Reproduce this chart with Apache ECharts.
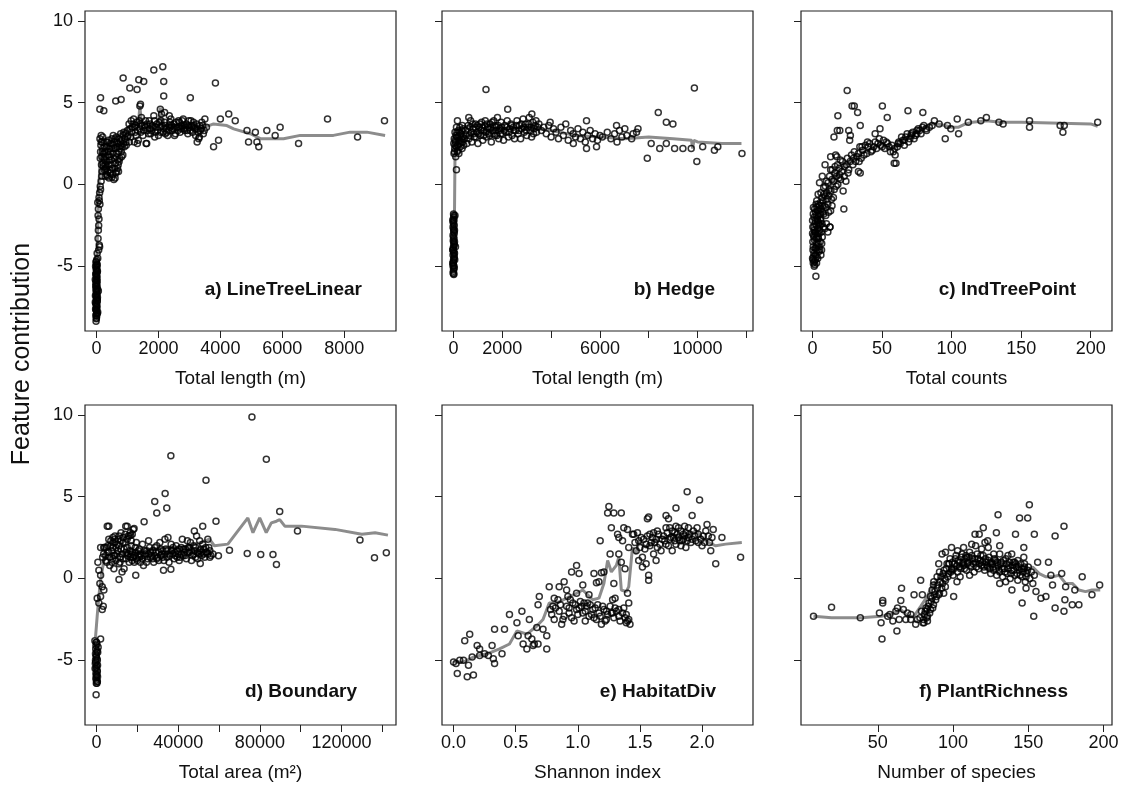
<!DOCTYPE html>
<html>
	<head>
		<meta charset="utf-8">
		<title></title>
		<script src="https://cdn.jsdelivr.net/npm/echarts@6/dist/echarts.min.js"></script>
		<style type="text/css">
			html, body {
				margin: 0;
				padding: 0;
				background: #fff;
			}

			#main {
				width: 1126px;
				height: 787px;
			}
		</style>
	</head>
	<body>
		<div id="main"></div>
		<script>
			// ---------- a) LineTreeLinear ----------
			var lineTreePts = [
				[-10,-4.7],[20,-4.9],[-30,-5.0],[0,-5.2],[30,-5.3],[-20,-5.5],[10,-5.6],[-40,-5.8],[20,-5.9],[0,-6.1],
				[-25,-6.2],[35,-6.4],[-10,-6.5],[15,-6.7],[-35,-6.8],[5,-7.0],[25,-7.1],[-15,-7.3],[10,-7.4],[-30,-7.6],
				[0,-7.7],[20,-7.9],[-20,-8.0],[-5,-8.2],[-15,-8.35],[60,-6.5],[40,-7.8],[-5,-5.4],[-20,-6.0],[30,-6.9],
				[-40,-7.2],[5,-7.9],
				[5,-4.6],[-15,-4.75],[10,-4.85],[-5,-4.95],[15,-5.05],[-10,-5.15],[0,-5.25],[20,-5.35],[-20,-5.45],[5,-5.55],
				[-5,-5.65],[15,-5.75],[-15,-5.85],[0,-5.95],[10,-6.05],[-10,-6.15],[20,-6.25],[-20,-6.35],[5,-6.45],[-5,-6.55],
				[15,-6.65],[-15,-6.75],[0,-6.85],[10,-6.95],[-10,-7.05],[20,-7.15],[-20,-7.25],[5,-7.35],[-5,-7.45],[15,-7.55],
				[-15,-7.65],[0,-7.75],[10,-7.85],[-10,-7.95],[5,-8.05],[-5,-8.15],[20,-4.2],[50,-3.3],[70,-2.5],[60,-1.5],[80,-0.8],
				[40,-4.5],[70,-4.0],[100,-3.8],[90,-3.7],[60,-2.8],[80,-2.1],[50,-1.9],[40,-1.1],[90,-1.0],[110,-1.2],
				[100,-0.5],[130,-0.3],[120,-0.1],[150,0.2],[170,0.5],
				[110,2.8],[150,3.0],[180,2.6],[200,2.2],[230,1.9],[260,1.5],[280,1.2],[300,0.9],[320,0.6],[350,0.5],
				[400,0.4],[450,0.7],[500,0.45],[560,0.3],[600,0.4],[650,0.8],[700,1.2],[750,1.6],[800,2.0],[850,1.8],
				[900,2.3],[950,2.6],[990,2.9],[130,2.0],[170,1.7],[210,1.3],[250,0.9],[290,1.0],[340,1.4],[380,1.8],
				[420,2.2],[460,2.5],[500,2.8],[540,3.0],[580,2.6],[620,2.2],[660,1.9],[700,2.5],[740,2.8],[780,3.1],
				[820,2.7],[860,3.0],[200,2.9],[240,2.6],[330,2.3],[370,2.0],[410,1.5],[470,1.2],[520,1.0],[570,1.6],
				[610,1.3],[680,1.0],[720,2.0],[160,1.2],[260,2.3],[440,0.9],[550,2.4],[640,2.9],[790,2.4],[880,3.2],
				[120,1.6],[140,2.4],[190,2.0],[220,1.1],[240,1.6],[270,2.0],[300,1.7],[310,2.6],[330,1.1],[360,0.8],
				[390,1.2],[430,1.7],[450,2.0],[480,1.5],[490,2.2],[530,1.9],[560,2.2],[590,1.0],[620,0.7],[630,1.7],
				[670,2.3],[690,1.5],[710,0.8],[730,1.4],[760,2.2],[770,2.6],[810,1.7],[830,2.3],[870,2.5],[920,2.8],
				[940,3.1],[960,2.4],[180,0.8],[280,0.5],[380,2.7],[520,0.6],[600,2.8],[150,2.6],[350,2.6],[660,2.6],
				[1000,3.3],[1050,3.7],[1100,2.9],[1150,3.5],[1200,4.0],[1250,3.2],[1300,3.8],[1350,2.7],[1400,3.4],[1450,4.1],
				[1500,3.0],[1550,3.6],[1600,2.5],[1650,3.3],[1700,3.9],[1750,3.1],[1800,3.6],[1850,4.2],[1900,3.2],[1950,3.7],
				[2000,3.0],[2050,3.5],[2100,4.3],[2150,3.2],[2200,3.8],[2250,3.4],[2300,3.0],[2350,3.6],[2400,4.0],[2450,3.3],
				[2500,3.7],[2550,3.1],[2600,3.5],[2650,3.9],[2700,3.2],[2750,3.6],[2800,4.0],[2850,3.3],[2900,3.7],[2950,3.1],
				[3000,3.5],[3050,3.9],[3100,3.2],[3150,3.6],[3200,3.0],[3250,3.4],[3300,2.8],[3350,3.3],[3400,3.8],[3450,3.1],
				[3500,4.0],[3550,3.5],[1120,3.9],[1280,3.0],[1420,3.7],[1580,3.9],[1720,3.4],[1880,2.9],[2080,3.9],[2220,3.1],
				[2380,3.5],[2520,3.0],[2680,3.8],[2820,3.4],[2980,3.9],[3120,3.5],[1220,2.6],[1320,2.5],[1620,2.5],[1060,2.6],
				[3250,2.6],[3320,2.9],[1400,4.8],[2060,4.6],[2200,4.4],[2350,4.2],
				[1020,3.0],[1080,3.4],[1130,3.2],[1180,3.7],[1230,3.5],[1270,3.6],[1330,3.3],[1380,3.9],[1430,3.2],[1470,3.6],
				[1530,3.3],[1570,3.5],[1630,3.7],[1680,3.1],[1730,3.7],[1780,3.3],[1830,3.5],[1870,3.9],[1920,3.5],[1970,3.3],
				[2020,3.8],[2070,3.2],[2120,3.6],[2170,3.4],[2230,3.6],[2270,3.2],[2330,3.3],[2370,3.8],[2430,3.6],[2470,3.4],
				[2530,3.5],[2570,3.8],[2630,3.3],[2670,3.5],[2730,3.4],[2770,3.9],[2830,3.6],[2870,3.5],[2930,3.3],[2970,3.6],
				[3030,3.3],[3080,3.6],[3130,3.8],[3180,3.4],[3230,3.7],[3280,3.2],[3330,3.6],[3380,3.4],[3430,3.6],[3480,3.3],
				[860,6.5],[1310,5.8],[1075,5.9],[1365,6.4],[1525,6.3],[1850,7.0],[2140,7.2],[2170,6.3],[2170,5.4],[620,5.1],
				[795,5.2],[130,5.3],[3030,5.3],[3840,6.2],[1420,4.9],[107,4.6],[236,4.5],
				[4270,4.3],[4480,3.9],[4000,4.0],[4860,3.3],[5130,3.2],[5500,3.3],[5930,3.5],[5770,3.0],[4910,2.6],[5180,2.6],
				[5240,2.3],[3780,2.3],[3940,2.7],[6525,2.5],[7460,4.0],[8430,2.9],[9300,3.9]
			];
			var lineTreeCurve = [
				[0,-5.0],[20,-3.8],[75,-0.1],[130,1.9],[450,2.5],[770,3.1],[1200,3.7],[1350,3.6],[1400,4.8],[1450,3.7],
				[2000,3.6],[2060,4.7],[2120,3.6],[2820,3.6],[3350,3.4],[3780,3.7],[4210,3.6],[4430,3.4],[4970,3.1],[5290,2.8],
				[6040,2.8],[6580,3.0],[7120,3.0],[7650,3.0],[8190,3.2],[8730,3.2],[9320,3.0]
			];

			// ---------- b) Hedge ----------
			var hedgePts = [
				[0,-1.8],[20,-2.0],[-10,-2.3],[30,-2.5],[0,-2.7],[10,-2.9],[-20,-3.1],[20,-3.3],[0,-3.5],[30,-3.7],
				[-10,-3.9],[10,-4.1],[-20,-4.3],[20,-4.5],[0,-4.7],[-10,-4.9],[30,-5.1],[0,-5.3],[10,-5.5],[80,-3.8],
				[60,-1.9],[-30,-4.0],[40,-2.8],[-20,-5.0],[50,-4.6],[120,0.9],
				[10,-1.9],[-10,-2.1],[20,-2.2],[0,-2.4],[-20,-2.6],[10,-2.8],[30,-3.0],[0,-3.2],[-10,-3.4],[20,-3.6],
				[0,-3.8],[-20,-4.0],[10,-4.2],[30,-4.4],[0,-4.6],[-10,-4.8],[20,-5.0],[0,-5.2],[-20,-5.4],[10,-5.45],
				[-30,-2.2],[40,-3.5],[-30,-4.8],[40,-4.2],
				[20,1.9],[50,2.2],[80,2.6],[100,3.0],[30,2.8],[60,2.4],[150,2.0],[180,2.9],[200,3.3],[250,2.5],
				[300,3.1],[350,2.2],[400,3.4],[120,3.5],[220,1.9],[280,2.3],[330,2.8],[380,2.6],[90,1.7],[160,3.9],
				[260,3.5],[60,3.2],[40,2.0],[70,2.7],[110,2.3],[130,2.9],[170,2.4],[190,2.1],[230,2.7],[270,3.0],
				[310,2.6],[340,3.3],[370,2.9],[420,2.4],[10,2.5],[140,3.2],[240,3.2],[360,3.6],
				[450,2.8],[500,3.3],[550,2.5],[600,3.6],[650,3.0],[700,3.9],[750,2.6],[800,3.4],[850,2.9],[900,3.7],
				[950,3.2],[1000,2.5],[1050,3.5],[1100,3.0],[1150,3.8],[1200,2.7],[1250,3.3],[1300,3.9],[1350,2.9],[1400,3.5],
				[1450,3.1],[1500,3.7],[1550,2.6],[1600,3.3],[1650,3.9],[1700,3.0],[1750,3.5],[1800,4.1],[1850,2.8],[1900,3.4],
				[1950,3.8],[2000,3.1],[2050,2.7],[2100,3.6],[2150,3.2],[2200,3.9],[2250,2.9],[2300,3.4],[2350,3.7],[2400,3.0],
				[2450,3.5],[2500,2.8],[2550,3.3],[2600,3.9],[2650,3.1],[2700,3.6],[2750,2.8],[2800,3.4],[2850,4.0],[2900,3.2],
				[2950,3.7],[3000,3.0],[3050,3.5],[3100,4.1],[3150,3.3],[3200,2.9],[3250,3.8],[3300,3.4],[3350,3.6],[3400,3.2],
				[520,3.0],[580,3.4],[630,2.8],[680,3.5],[730,3.2],[780,3.7],[830,3.1],[880,3.5],[930,2.9],[980,3.6],
				[1030,3.1],[1080,3.7],[1130,3.3],[1180,3.5],[1230,3.0],[1280,3.6],[1330,3.2],[1380,3.7],[1430,3.4],[1480,3.0],
				[1530,3.5],[1580,3.8],[1630,3.1],[1680,3.6],[1730,3.3],[1780,3.0],[1830,3.6],[1880,3.3],[1930,3.1],[1980,3.5],
				[2080,3.3],[2180,3.5],[2280,3.2],[2380,3.6],[2480,3.3],[2580,3.6],[2680,3.3],[2780,3.7],[2880,3.5],[2980,3.3],
				[3080,3.7],[3180,3.5],[3280,3.1],[3380,3.9],[3450,3.5],
				[3500,3.7],[3600,3.3],[3700,3.5],[3800,3.1],[3900,3.6],[4000,2.9],[4100,3.4],[4200,3.2],[4300,2.8],[4400,3.5],
				[4500,3.0],[4600,3.7],[4700,2.7],[4800,3.3],[4900,3.1],[5000,2.9],[5100,3.4],[5200,2.8],[5300,3.2],[5400,2.6],
				[5500,3.0],[5600,3.3],[5700,2.8],[5800,3.1],[5900,2.7],[6000,3.0],[6100,2.9],[6300,3.2],[6450,2.8],[6600,3.1],
				[6700,2.6],[6800,3.3],[6900,2.9],[7100,3.0],[7300,2.8],[7500,3.2],[5450,2.2],[5860,2.3],[4910,2.5],
				[1330,5.8],[2220,4.6],[625,4.1],[3210,4.3],[3960,3.8],[5450,3.9],[8390,4.4],[9870,5.9],[8720,3.8],[8990,3.7],
				[7940,1.6],[9970,1.4],[11820,1.9],[10690,2.1],[10210,2.3],[9400,2.2],[9060,2.2],[8450,2.2],[8100,2.5],[8720,2.5],
				[9740,2.2],[10830,2.3],[6680,3.6],[7020,3.4],[7560,3.4],[7360,3.1]
			];
			var hedgeCurve = [
				[0,-4.5],[40,-1.8],[60,1.7],[120,2.5],[400,2.9],[1000,3.2],[2000,3.4],[3000,3.5],[4000,3.3],[5000,3.0],
				[6000,2.9],[7000,2.8],[8000,2.9],[9000,2.8],[9750,2.7],[9800,2.2],[9850,2.7],[10000,2.6],[11000,2.5],[11800,2.5]
			];

			// ---------- c) IndTreePoint ----------
			var indTreePts = [
				[0,-4.5],[1,-4.2],[0.5,-3.8],[2,-4.6],[1.5,-3.4],[0,-3.0],[2.5,-3.9],[3,-4.4],[1,-2.6],[2,-2.2],
				[0.5,-1.8],[3.5,-3.0],[4,-3.6],[4.5,-4.1],[3,-2.5],[1.5,-1.5],[2.5,-1.2],[4,-1.9],[5,-2.8],[5.5,-3.5],
				[6,-4.3],[0,-2.2],[0.5,-4.8],[1,-3.2],[3.5,-1.6],[5,-1.3],[6,-2.2],[7,-3.2],[7.5,-1.0],[1.2,-5.0],
				[2.4,-5.6],[6,-0.5],[8,-1.8],[9,-0.7],[10,-2.4],[11,-1.2],[12,-0.3],[13,-1.6],[14,0.3],[15,-0.8],
				[16,0.7],[17,-0.1],[18,1.2],[19,0.4],[20,1.5],[21,0.8],[22,-0.4],[23,1.1],[24,0.2],[25,1.6],
				[26,0.9],[28,1.8],[29,1.2],[30,2.0],[31,1.4],[33,1.9],[34,2.3],[35,1.6],[36,2.1],[38,2.4],
				[39,1.9],[41,2.5],[42,2.0],[44,2.3],[45,2.6],[46,2.2],[48,2.8],[49,2.4],[51,2.7],[52,2.2],
				[54,2.5],[56,2.0],[57,2.4],[59,2.2],[62,2.6],[64,2.9],[66,2.4],[68,3.1],[70,2.8],[72,3.2],
				[74,3.0],[76,3.4],[78,3.1],[80,3.6],[82,3.3],[84,3.5],[11,-2.9],[12.5,-2.6],[7,0.5],[9,1.2],
				[10,0.2],[8,-0.2],[13,0.9],[14,-1.3],[5,0.1],[4,-0.6],[6.5,-4.0],[3,-1.0],[2,-3.0],[4.5,-2.4],
				[0.3,-4.0],[0.8,-4.4],[1.3,-4.7],[1.8,-3.9],[2.2,-4.3],[2.8,-3.6],[3.3,-4.0],[3.8,-4.5],[4.2,-3.3],[4.8,-3.8],
				[0.2,-3.5],[0.7,-3.1],[1.2,-2.8],[1.7,-2.4],[2.3,-2.9],[2.7,-3.3],[3.2,-2.1],[3.7,-2.7],[4.3,-2.3],[4.7,-3.0],
				[5.3,-2.5],[5.8,-1.8],[6.3,-2.9],[6.8,-2.4],[7.3,-1.7],[7.8,-2.6],[8.5,-1.3],[9.5,-1.9],[10.5,-0.9],[11.5,-1.7],
				[0.2,-2.6],[0.6,-1.4],[1.1,-2.0],[1.6,-2.9],[2.1,-1.7],[2.6,-1.9],[3.1,-1.4],[3.6,-2.2],[4.1,-1.2],[4.6,-1.6],
				[5.2,-1.8],[5.7,-1.1],[6.2,-1.5],[6.7,-0.8],[7.2,-1.3],[8.2,-0.6],[9.2,-0.1],[10.2,-0.5],[11.2,0.1],[12.2,0.5],
				[13.2,-0.4],[14.2,0.9],[15.2,0.2],[16.2,1.1],[17.2,0.5],[18.2,0.0],[19.2,1.0],[20.2,0.3],[0.4,-4.6],[1.6,-4.9],
				[2.9,-4.8],[3.9,-3.2],[5.1,-4.0],[5.6,-2.1],[6.6,-3.6],[8.7,-2.7],[9.7,-1.4],[11.8,-0.7],[13.6,-0.9],[15.6,-0.3],
				[17.5,1.7],[19.5,0.6],[21.5,1.4],[22.8,0.5],[24.2,1.2],[25.5,0.7],[27,1.4],[29.5,1.6],[32,1.7],[33.5,1.4],
				[35.5,2.3],[37,1.8],[40,2.3],[43,2.1],[47,2.5],[50,2.3],[53,2.6],[55,2.3],[58,2.0],[61,2.3],
				[63,2.5],[65,2.7],[67,2.9],[69,2.6],[71,3.0],[73,2.8],[75,3.1],[77,3.3],[79,3.5],
				[13,1.7],[15.4,2.9],[17.8,3.3],[18.2,4.2],[19.6,3.3],[24.9,5.75],[26.7,2.7],[28.4,4.8],[30,4.8],[32.4,4.4],
				[34.3,3.6],[26,3.3],[27.2,3.0],[16.6,1.8],[50.2,4.8],[53.7,4.1],[68.6,4.5],[79.3,4.4],[58.7,1.3],[48.5,3.4],
				[45,3.1],[39.5,2.6],[34.3,0.7],[33,0.8],[22.5,-1.5],[12.5,-2.6],[87.6,3.9],[95.4,2.8],[104,4.0],[105,3.1],
				[112,3.8],[121,3.9],[125,4.1],[134,3.8],[137,3.7],[156,3.9],[156,3.5],[178,3.6],[180,3.2],[181,3.6],
				[205,3.8],[99.4,3.4],[97,3.6],[91,3.7],[86,3.6],[81.7,3.4],[75,3.3],[71,3.1],[66,2.7],[61.5,2.5],
				[59.4,1.8],[60,1.3]
			];
			var indTreeCurve = [
				[0,-4.5],[2,-3.5],[5,-2.0],[8,-1.0],[12,-0.2],[16,0.5],[20,0.9],[25,1.3],[30,1.6],[35,1.9],
				[40,2.1],[45,2.3],[50,2.5],[55,2.2],[60,2.3],[65,2.7],[70,3.0],[75,3.2],[80,3.5],[85,3.7],
				[90,3.7],[95,3.6],[100,3.5],[105,3.5],[110,3.7],[115,3.8],[125,3.9],[135,3.8],[150,3.8],[200,3.7],
				[205,3.55]
			];

			// ---------- d) Boundary ----------
			var boundaryPts = [
				[-800,-3.8],[200,-4.0],[-400,-4.3],[600,-4.5],[-200,-4.8],[400,-5.0],[-600,-5.2],[0,-5.4],[300,-5.6],[-300,-5.8],
				[500,-6.0],[-100,-6.2],[200,-6.4],[-500,-4.6],[100,-5.9],[-200,-7.1],[400,-6.3],[-700,-5.5],[800,-4.2],
				[0,-3.9],[-300,-4.1],[300,-4.4],[-100,-4.7],[200,-4.9],[-400,-5.1],[100,-5.3],[-200,-5.5],[400,-5.7],[0,-5.9],
				[-300,-6.1],[300,-6.3],[-100,-6.4],[100,-4.5],[-500,-5.0],[500,-5.3],[0,-6.0],[-200,-3.9],
				[2000,-3.7],[330,-1.2],[2000,-1.1],[2800,-1.9],[3300,-1.7],[1150,-1.5],[1640,-0.3],[2800,-0.5],[3600,-0.7],[2000,0.2],
				[1150,0.5],[660,1.0],[2000,1.9],[5250,3.2],[4900,1.9],
				[3000,1.3],[4000,1.9],[5000,1.0],[6000,1.6],[7000,2.3],[8000,1.2],[9000,2.6],[10000,1.5],[11000,0.9],[12000,1.8],
				[13000,1.2],[14000,2.7],[15000,1.4],[16000,1.0],[17000,2.0],[18000,1.3],[19000,1.6],[20000,1.1],[21000,1.8],[22000,1.4],
				[23000,0.8],[24000,1.5],[25000,1.2],[26000,1.9],[27000,1.4],[28000,1.0],[29000,1.6],[30000,1.3],[31000,2.2],[32000,1.5],
				[33000,1.1],[34000,1.8],[35000,2.5],[36000,1.4],[37000,1.7],[38000,1.2],[39000,2.0],[40000,1.5],[41000,1.3],[42000,2.4],
				[43000,1.6],[44000,1.2],[45000,1.9],[46000,2.2],[47000,1.4],[48000,1.7],[49000,2.6],[50000,1.5],[51000,1.8],[52000,2.1],
				[53000,1.3],[54000,1.6],[55000,1.9],[56000,1.4],[5500,2.0],[7500,1.0],[8500,0.6],[9500,1.9],[10500,2.4],[12500,0.4],
				[13500,0.6],[15500,2.6],[16500,1.7],[18500,1.0],[20500,1.4],[22500,2.1],[24500,1.0],[26500,1.6],[28500,1.9],[30500,1.1],
				[32500,1.7],[34500,1.3],[36500,2.1],[38500,1.6],[40500,1.1],[42500,1.8],[44500,2.3],[46500,1.1],[48500,1.3],[50500,2.3],
				[52500,1.5],[54500,2.4],[4500,1.4],[6500,0.8],[11500,1.3],[14500,1.6],[17500,1.1],[19500,2.2],[21500,1.0],[23500,1.7],
				[25500,2.3],[27500,1.2],[29500,2.0],[31500,1.4],[33500,2.4],[35500,1.0],[37500,1.5],[39500,1.3],[41500,1.9],[43500,1.4],
				[45500,1.6],[47500,2.0],[49500,1.2],[51500,1.6],[53500,1.9],[55500,1.7],[57000,1.5],[8000,2.5],[9000,2.2],[12000,2.8],
				[15000,3.2],[16500,2.8],[17500,2.7],[18000,3.0],[6000,3.2],[3500,1.9],
				[3500,1.5],[4500,1.1],[5500,1.6],[6500,1.3],[7500,1.7],[8500,1.4],[9500,1.1],[10500,1.7],[11500,1.0],[12500,1.5],
				[13500,1.8],[14500,1.2],[15500,1.5],[16500,1.3],[17500,1.6],[18500,1.4],[19500,1.2],[20500,1.7],[21500,1.5],[22500,1.2],
				[23500,1.4],[24500,1.7],[25500,1.5],[26500,1.3],[27500,1.7],[28500,1.4],[29500,1.2],[30500,1.6],[31500,1.8],[32500,1.3],
				[33500,1.5],[34500,1.7],[35500,1.5],[36500,1.7],[37500,1.9],[38500,1.4],[39500,1.7],[40500,1.8],[41500,1.5],[42500,1.4],
				[43500,1.8],[44500,1.6],[45500,1.9],[46500,1.7],[47500,1.5],[48500,1.9],[49500,1.6],[50500,1.7],[51500,1.4],[52500,1.8],
				[53500,1.6],[54500,1.5],[55500,1.3],[8000,1.9],[9000,1.4],[11000,2.0],[13000,2.2],[15000,1.9],[17000,1.5],[19000,1.9],
				[21000,1.3],[6000,2.4],[7000,2.0],[8000,2.2],[9000,2.4],[10000,2.1],[11000,2.6],[12000,2.3],[13000,2.5],[14000,2.2],
				[15000,2.4],[16000,2.6],[17000,2.3],
				[76100,9.86],[83150,7.29],[36400,7.5],[53600,6.0],[33600,5.2],[28500,4.7],[29500,4.0],[34400,4.3],[89700,4.1],[58500,3.5],
				[52000,3.2],[47900,2.9],[98400,2.9],[129000,2.35],[136100,1.27],[141900,1.57],[73800,1.53],[80400,1.47],[86400,1.47],[88100,0.86],
				[65100,1.73],[59700,1.39],[50800,0.92],[36400,0.57],[32800,0.5],[19200,0.2],[11000,-0.06],[14300,3.2],[18400,3.06],[23300,3.47],
				[16700,2.65]
			];
			var boundaryCurve = [
				[-490,-3.6],[330,-2.3],[1150,-1.1],[1970,-0.1],[3600,1.1],[5250,1.4],[10200,1.5],[18400,1.6],[26600,1.8],[34800,1.9],
				[43000,1.9],[51200,2.2],[55300,2.4],[57700,2.0],[64300,2.1],[74100,3.7],[76600,2.8],[79900,3.7],[83100,2.8],[85600,3.4],
				[88100,3.5],[89700,3.6],[92200,3.2],[100400,3.2],[116800,3.0],[129900,2.7],[136400,2.8],[142700,2.65]
			];

			// ---------- e) HabitatDiv ----------
			var habitatPts = [
				[0,-5.1],[0.03,-5.8],[0.11,-6.0],[0.16,-5.9],[0.08,-5.0],[0.15,-4.8],[0.21,-4.7],[0.09,-3.8],[0.13,-3.4],[0.19,-4.1],
				[0.21,-4.3],[0.25,-4.6],[0.28,-4.7],[0.32,-4.9],[0.33,-5.2],[0.31,-4.1],[0.33,-3.1],[0.41,-3.1],[0.39,-4.6],[0.45,-2.2],
				[0.51,-2.7],[0.55,-2.0],[0.52,-3.5],[0.61,-2.5],[0.6,-3.5],[0.64,-4.1],[0.68,-4.0],[0.67,-3.0],[0.68,-1.6],[0.69,-1.1],
				[0.72,-3.1],[0.75,-4.3],[0.75,-3.5],[0.56,-4.0],[0.59,-4.3],[0.63,-3.7],[0.65,-4.0],[0.02,-5.2],[0.05,-5.0],[0.12,-5.3],
				[0.77,-0.5],[0.81,-1.2],[0.85,-0.5],[0.89,-0.2],[0.91,-0.7],[0.95,0.4],[0.99,0.8],[1.01,0.3],[1.04,-0.4],[1.09,-1.0],
				[1.13,0.3],[1.19,0.35],[1.15,-0.26],[1.19,-2.8],[1.23,-2.5],[1.27,-2.1],[1.33,-1.9],[1.39,-2.7],[1.40,-2.6],[1.30,-1.2],
				[0.81,-2.5],[0.88,-2.5],[0.97,-2.6],[0.8,-1.7],[0.85,-2.0],[0.91,-1.7],[0.96,-1.5],[1.01,-1.8],[1.07,-1.7],[1.12,-1.9],
				[1.17,-2.1],[1.23,-2.0],[1.28,-2.1],[1.33,-2.3],[1.36,-2.1],[1.41,-2.5],[0.93,-2.1],[0.99,-1.9],[1.04,-2.1],[1.09,-2.3],
				[1.15,-2.5],[0.84,-1.3],[0.92,-1.1],[0.99,-0.9],[1.05,-1.5],[0.78,-1.9],[1.02,-1.4],[1.10,-1.6],[1.20,-1.7],[1.30,-1.8],
				[0.82,-1.8],[0.86,-1.6],[0.89,-2.3],[0.93,-1.8],[0.95,-2.4],[0.98,-1.6],[1.00,-2.2],[1.03,-1.7],[1.06,-2.0],[1.08,-1.5],
				[1.11,-2.2],[1.14,-1.8],[1.16,-1.6],[1.18,-2.3],[1.21,-1.9],[1.24,-2.2],[1.26,-1.7],[1.29,-2.4],[1.31,-2.0],[1.34,-2.6],
				[1.37,-1.8],[1.39,-2.2],[1.42,-2.8],[1.38,-2.4],[0.87,-2.8],[0.94,-1.3],[1.06,-2.6],[1.13,-2.4],[1.22,-2.6],[0.79,-2.2],
				[1.25,4.4],[1.24,4.0],[1.29,4.0],[1.35,4.0],[1.27,3.1],[1.37,3.1],[1.40,3.0],[1.32,2.7],[1.33,2.5],[1.18,2.3],
				[1.26,1.5],[1.33,1.5],[1.21,0.4],[1.17,-0.2],[1.29,-0.3],[1.28,-1.3],[1.36,2.3],[1.41,1.9],[1.44,2.7],[1.4,-0.9],
				[1.41,-1.5],[1.38,0.6],[1.35,1.0],
				[1.45,2.7],[1.49,2.3],[1.47,1.7],[1.49,1.1],[1.52,0.7],[1.55,0.9],[1.57,-0.1],[1.56,3.65],[1.57,3.75],[1.55,2.1],
				[1.6,2.5],[1.61,1.5],[1.64,1.9],[1.65,2.7],[1.71,2.1],[1.71,3.85],[1.73,3.65],[1.79,4.3],[1.71,3.1],[1.75,2.5],
				[1.79,2.1],[1.81,3.1],[1.84,2.3],[1.87,1.9],[1.88,5.3],[1.98,4.8],[1.92,3.85],[1.89,3.1],[1.96,3.1],[1.97,2.2],
				[2.0,2.0],[2.03,2.9],[2.04,3.3],[2.09,3.0],[2.08,2.5],[2.07,1.7],[2.11,0.9],[2.16,2.5],[2.31,1.3],[1.76,1.7],
				[1.67,1.7],[1.57,0.2],[1.81,2.5],[1.77,2.5],[1.85,2.7],[1.89,2.5],[1.5,1.9],[1.53,2.4],[1.58,2.0],[1.62,2.2],
				[1.68,2.4],[1.73,2.0],[1.78,2.8],[1.83,2.0],[1.86,2.6],[1.91,2.2],[1.94,2.6],[1.99,2.4],[1.52,1.3],[1.63,1.1],
				[1.46,2.2],[1.48,2.8],[1.51,2.5],[1.54,1.8],[1.56,2.6],[1.59,2.2],[1.61,2.8],[1.63,2.4],[1.66,2.1],[1.69,2.6],
				[1.70,2.3],[1.72,2.8],[1.74,2.4],[1.76,2.9],[1.78,2.3],[1.80,2.7],[1.82,2.3],[1.83,2.9],[1.85,2.4],[1.87,2.8],
				[1.88,2.3],[1.90,2.7],[1.92,2.4],[1.93,2.9],[1.95,2.3],[1.97,2.7],[2.01,2.6],[2.02,2.2],[2.05,2.6],[2.06,2.2],
				[1.79,3.2],[1.74,3.1],[1.86,3.2],[1.64,2.9],[1.58,2.7]
			];
			var habitatCurve = [
				[0,-5.1],[0.08,-5.1],[0.16,-4.8],[0.27,-4.6],[0.37,-4.3],[0.45,-4.0],[0.51,-3.2],[0.59,-3.4],[0.67,-2.9],[0.72,-2.5],
				[0.77,-1.5],[0.83,-1.5],[0.91,-1.2],[0.99,-0.9],[1.04,-0.7],[1.12,-1.3],[1.17,-1.2],[1.21,-0.3],[1.24,1.1],[1.27,0.4],
				[1.31,0.8],[1.33,1.3],[1.35,-0.7],[1.39,-0.8],[1.41,-0.5],[1.44,1.9],[1.47,1.5],[1.49,2.3],[1.55,1.9],[1.6,2.1],
				[1.65,2.5],[1.71,2.5],[1.76,2.7],[1.84,2.5],[1.89,2.7],[1.95,2.9],[2.0,2.5],[2.05,2.2],[2.11,2.0],[2.19,2.1],
				[2.32,2.2]
			];

			// ---------- f) PlantRichness ----------
			var plantPts = [
				[7.3,-2.3],[19.3,-1.76],[38.4,-2.4],[51.1,-2.1],[52.2,-2.7],[52.8,-3.7],[53.3,-1.5],[53.3,-1.35],[56.6,-2.3],[62,-2.0],
				[63.1,-1.8],[62.7,-3.2],[64.2,-2.5],[65.3,-1.35],[65.8,-0.6],[68.6,-2.5],[69.7,-2.1],[71.9,-2.5],[74.1,-1.0],[75.2,-2.8],
				[76.3,-2.5],[78.5,-0.1],[79.6,-1.0],[80.7,-2.7],[82.8,-1.9],[85,-1.1],[86.1,-0.7],[87.2,-0.2],[89.4,0.1],[90.5,0.9],
				[92.7,1.5],[93.8,-0.9],[94.9,-0.5],[97.1,0.9],[99.3,0.5],[100.4,-1.1],[102.6,-0.2],[104.7,0.1],[106.9,0.9],[109.1,1.3],
				[112.4,2.1],[114.6,2.7],[117.4,2.7],[120.1,3.1],[121.2,2.2],[123.4,1.9],[124.9,0.9],[129.9,3.9],[128.8,2.8],[131.0,2.0],
				[131,-0.3],[136.5,1.4],[139.1,-0.7],[141.5,2.7],[144.2,3.7],[149.6,3.7],[147.0,1.9],[145.9,-1.5],[148.5,-0.6],[150.7,4.5],
				[154,2.7],[153.6,-2.3],[155.1,-0.8],[156.2,1.0],[158.4,-1.2],[161.7,-1.1],[163.4,1.0],[165,0.2],[166.1,-0.4],[167.8,2.6],
				[167.8,-1.8],[172.2,0.3],[173.7,3.2],[174.3,-1.3],[173.7,-2.0],[174.8,-0.5],[179.2,-1.6],[180.9,-0.7],[183.6,-1.6],[185.8,0.1],
				[192.3,-1.0],[197.4,-0.4],[140.9,1.0],[147.4,0.7],[58,-2.2],[60,-2.6],[67,-1.9],[72,-2.2],
				[78,-2.4],[80,-2.7],[81,-2.2],[82,-1.8],[83,-2.3],[84,-1.5],[85,-1.9],[86,-1.2],[87,-1.6],[88,-0.8],
				[89,-1.1],[90,-0.4],[91,-0.9],[92,0.1],[93,-0.3],[94,0.5],[95,-0.1],[96,0.9],[97,0.3],[98,1.2],
				[99,0.6],[100,0.2],[101,0.9],[102,1.4],[103,0.4],[104,1.0],[105,0.6],[106,1.5],[107,0.8],[108,1.2],
				[109,0.5],[110,1.0],[111,1.6],[112,0.7],[113,1.2],[114,0.4],[115,1.0],[116,1.5],[117,0.6],[118,1.1],
				[119,0.8],[120,1.4],[121,0.5],[122,1.0],[123,0.7],[124,1.3],[125,0.3],[126,0.9],[127,0.5],[128,1.1],
				[129,0.2],[130,0.8],[131,0.4],[132,1.0],[133,0.1],[134,0.6],[135,1.2],[136,0.3],[137,0.8],[138,0.0],
				[139,0.5],[140,1.0],[141,0.2],[142,0.7],[143,-0.1],[144,0.5],[145,0.9],[146,0.1],[147,0.6],[148,-0.2],
				[149,0.3],[150,0.7],[151,0.0],[152,0.4],[153,-0.3],[154,0.2],[79,-2.0],[83,-2.6],[87,-0.4],[91,0.4],
				[95,1.6],[99,1.9],[103,1.7],[107,1.9],[111,0.2],[115,2.0],[119,1.8],[123,2.3],[127,1.5],[131,1.5],
				[135,-0.2],[139,1.5],[143,1.1],[147,1.3],
				[80.5,-2.5],[81.5,-2.0],[82.5,-2.4],[83.5,-1.7],[84.5,-2.1],[85.5,-1.4],[86.5,-1.8],[87.5,-1.0],[88.5,-1.3],[89.5,-0.6],
				[90.5,-1.0],[91.5,-0.2],[92.5,-0.6],[93.5,0.3],[94.5,0.0],[95.5,0.6],[96.5,0.1],[97.5,0.9],[98.5,0.4],[99.5,1.0],
				[100.5,0.6],[101.5,1.2],[102.5,0.8],[103.5,1.1],[104.5,0.7],[105.5,1.3],[106.5,1.0],[107.5,0.6],[108.5,1.4],[109.5,0.9],
				[110.5,1.3],[111.5,0.8],[112.5,1.4],[113.5,0.9],[114.5,1.2],[115.5,0.7],[116.5,1.2],[117.5,0.9],[118.5,1.4],[119.5,1.0],
				[120.5,0.7],[121.5,1.2],[122.5,0.8],[123.5,1.1],[124.5,0.6],[125.5,1.0],[126.5,0.7],[127.5,1.2],[128.5,0.6],[129.5,1.0],
				[130.5,0.5],[131.5,0.9],[132.5,0.6],[133.5,1.1],[134.5,0.4],[135.5,0.9],[136.5,0.6],[137.5,1.0],[138.5,0.3],[139.5,0.8],
				[140.5,0.5],[141.5,0.9],[142.5,0.3],[143.5,0.7],[144.5,0.2],[145.5,0.6],[146.5,0.4],[147.5,0.9],[148.5,0.1],[149.5,0.5]
			];
			var plantCurve = [
				[7.3,-2.3],[19.3,-2.4],[39,-2.4],[52.2,-2.3],[58.8,-2.2],[65.3,-1.9],[69.7,-2.3],[74.1,-2.3],[78.5,-1.7],[82.8,-1.1],
				[87.2,-0.3],[91.6,0.1],[98.2,0.5],[104.7,0.8],[111.3,1.0],[117.9,1.0],[122.3,0.8],[126.6,0.9],[128.8,1.3],[131,0.7],
				[135.4,0.8],[139.8,0.9],[144.2,0.7],[148.5,0.5],[152.9,0.7],[157.3,0.3],[161.7,0.1],[166.1,0.1],[170.4,0.2],[174.8,-0.3],
				[179.2,-0.3],[183.6,-0.7],[188,-0.8],[192.3,-0.7],[197.8,-0.7]
			];

			// axis ranges, ticks and labels
			var yTicks = [-5, 0, 5, 10];
			var xRanges = [[-372, 9672], [-472, 12272], [-8.3, 215.3], [-5640, 146640], [-0.093, 2.41], [-1, 205.6]];
			var xTicks = [
				[0, 2000, 4000, 6000, 8000],
				[0, 2000, 4000, 6000, 8000, 10000, 12000],
				[0, 50, 100, 150, 200],
				[0, 20000, 40000, 60000, 80000, 100000, 120000, 140000],
				[0, 0.5, 1, 1.5, 2],
				[50, 100, 150, 200]
			];
			var xLabels = [
				[0, 2000, 4000, 6000, 8000],
				[0, 2000, 6000, 10000],
				[0, 50, 100, 150, 200],
				[0, 40000, 80000, 120000],
				[0, 0.5, 1, 1.5, 2],
				[50, 100, 150, 200]
			];
			var xNames = ['Total length (m)', 'Total length (m)', 'Total counts', 'Total area (m²)', 'Shannon index', 'Number of species'];
			var tags = ['a) LineTreeLinear', 'b) Hedge', 'c) IndTreePoint', 'd) Boundary', 'e) HabitatDiv', 'f) PlantRichness'];
			var pointSets = [lineTreePts, hedgePts, indTreePts, boundaryPts, habitatPts, plantPts];
			var curveSets = [lineTreeCurve, hedgeCurve, indTreeCurve, boundaryCurve, habitatCurve, plantCurve];

			// layout of the 2x3 panels (px)
			var panelLeft = [85, 442, 801];
			var panelTop = [11, 405];
			var panelW = 311, panelH = 320;
			var tagPos = [[362, 290], [715, 290], [1076, 290], [357, 692], [716, 692], [1068, 692]];

			var FONT = '"Liberation Sans", Arial, sans-serif';
			var chart = echarts.init(document.getElementById('main'));

			function fmtPlain(v) { return String(v); }
			function fmtOneDec(v) { return v.toFixed(1); }

			var grids = [], xAxes = [], yAxes = [], series = [], graphics = [];
			for (var i = 0; i < 6; i++) {
				var col = i % 3, row = Math.floor(i / 3);
				grids.push({
					left: panelLeft[col], top: panelTop[row], width: panelW, height: panelH,
					show: true, borderColor: '#222', borderWidth: 1.2, backgroundColor: '#fff'
				});
				xAxes.push({
					gridIndex: i, type: 'value', min: xRanges[i][0], max: xRanges[i][1],
					name: xNames[i], nameLocation: 'middle', nameGap: 38,
					nameTextStyle: { fontSize: 19, color: '#111', fontFamily: FONT },
					axisLine: { show: false, onZero: false },
					splitLine: { show: false },
					axisTick: { show: true, length: 7, customValues: xTicks[i], lineStyle: { color: '#222', width: 1 } },
					axisLabel: {
						customValues: xLabels[i], fontSize: 18, margin: 9, color: '#111', fontFamily: FONT,
						formatter: i === 4 ? fmtOneDec : fmtPlain
					}
				});
				yAxes.push({
					gridIndex: i, type: 'value', min: -8.95, max: 10.6,
					axisLine: { show: false, onZero: false },
					splitLine: { show: false },
					axisTick: { show: true, length: 7, customValues: yTicks, lineStyle: { color: '#222', width: 1 } },
					axisLabel: { show: col === 0, customValues: yTicks, fontSize: 18, margin: 12, color: '#111', fontFamily: FONT }
				});
				// grey fitted line first, open circles on top (as in the original figure)
				series.push({
					type: 'line', xAxisIndex: i, yAxisIndex: i, data: curveSets[i],
					showSymbol: false, silent: true, z: 2,
					lineStyle: { color: '#8c8c8c', width: 3 }
				});
				series.push({
					type: 'scatter', xAxisIndex: i, yAxisIndex: i, data: pointSets[i],
					symbol: 'circle', symbolSize: 6, silent: true, z: 3,
					itemStyle: { color: 'rgba(255,255,255,0)', borderColor: '#000', borderWidth: 1.5 }
				});
				graphics.push({
					type: 'text', x: tagPos[i][0], y: tagPos[i][1],
					style: { text: tags[i], font: 'bold 19px ' + FONT, fill: '#111', align: 'right', verticalAlign: 'middle' }
				});
			}

			graphics.push({
				type: 'text', x: 22, y: 354, rotation: Math.PI / 2,
				style: { text: 'Feature contribution', font: '25px ' + FONT, fill: '#111', align: 'center', verticalAlign: 'middle' }
			});

			chart.setOption({
				animation: false,
				backgroundColor: '#fff',
				grid: grids,
				xAxis: xAxes,
				yAxis: yAxes,
				series: series,
				graphic: graphics
			});
		</script>
	</body>
</html>
